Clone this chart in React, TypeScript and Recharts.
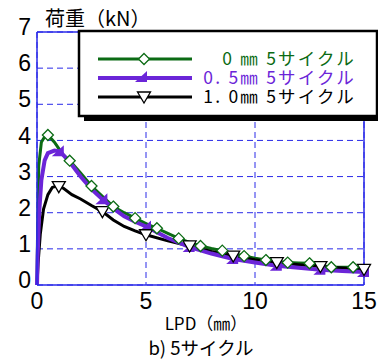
import { ComposedChart, Line, Scatter, XAxis, YAxis, CartesianGrid, ReferenceLine } from "recharts"

const GREEN = "#0b6b14"
const PURPLE = "#6b25d8"
const BLUE = "#2a2ae8"

const xTicks = [0, 5, 10, 15]
const yTicks = [0, 1, 2, 3, 4, 5, 6, 7]

// 0 mm 5サイクル
const greenX = [0, 0.02, 0.08, 0.2, 0.35, 0.5, 0.8, 1.2, 1.5, 2, 2.5, 3, 3.5, 4, 4.5, 5, 5.5, 6, 6.5, 7, 7.5, 8, 8.5, 9, 9.5, 10, 10.5, 11, 11.5, 12, 12.5, 13, 13.5, 14, 14.5, 15]
const greenY = [0, 1.2, 3.3, 3.95, 4.1, 4.15, 3.95, 3.6, 3.44, 3.1, 2.74, 2.45, 2.17, 2.0, 1.85, 1.7, 1.57, 1.43, 1.29, 1.18, 1.08, 1.01, 0.95, 0.87, 0.8, 0.74, 0.69, 0.65, 0.62, 0.61, 0.6, 0.55, 0.49, 0.49, 0.49, 0.44]
const greenMarkX = [0.5, 1.5, 2.5, 3.5, 4.5, 5.5, 6.5, 7.5, 8.5, 9.5, 10.5, 11.5, 12.5, 13.5, 14.5]
const greenMarkY = [4.15, 3.44, 2.74, 2.17, 1.85, 1.57, 1.29, 1.08, 0.95, 0.8, 0.69, 0.62, 0.6, 0.49, 0.49]

// 0.5mm 5サイクル
const purpleX = [0, 0.03, 0.1, 0.2, 0.35, 0.5, 0.8, 1.05, 1.5, 2, 2.5, 3, 3.5, 4, 4.5, 5, 6, 7, 8, 9, 10, 11, 12, 13, 14, 15]
const purpleY = [0, 0.8, 2.0, 2.9, 3.45, 3.65, 3.72, 3.7, 3.4, 3.0, 2.65, 2.37, 2.12, 1.9, 1.75, 1.62, 1.3, 1.05, 0.87, 0.72, 0.62, 0.53, 0.48, 0.42, 0.39, 0.36]
const purpleMarkX = [1, 3, 5, 7, 9, 11, 13, 15]
const purpleMarkY = [3.7, 2.37, 1.62, 1.05, 0.72, 0.53, 0.42, 0.36]

// 1.0mm 5サイクル
const blackX = [0, 0.05, 0.15, 0.3, 0.5, 0.7, 0.9, 1.2, 1.6, 2, 2.5, 3, 3.5, 4, 4.5, 5, 6, 7, 8, 9, 10, 11, 12, 13, 14, 15]
const blackY = [0, 0.6, 1.4, 2.1, 2.5, 2.7, 2.74, 2.68, 2.5, 2.38, 2.2, 2.03, 1.8, 1.62, 1.5, 1.39, 1.22, 1.08, 0.93, 0.8, 0.7, 0.62, 0.56, 0.51, 0.47, 0.43]
const blackMarkX = [1, 3, 5, 7, 9, 11, 13, 15]
const blackMarkY = [2.72, 2.03, 1.39, 1.08, 0.8, 0.62, 0.51, 0.43]

const pts = (xs: number[], ys: number[]) => xs.map((x, i) => ({ x, y: ys[i] }))

const Diamond = (p: any) => (
  <path
    d={`M${p.cx},${p.cy - 5.5} L${p.cx + 5.5},${p.cy} L${p.cx},${p.cy + 5.5} L${p.cx - 5.5},${p.cy} Z`}
    fill="#fff"
    stroke={GREEN}
    strokeWidth={1.3}
  />
)
const DownTri = (p: any) => (
  <path
    d={`M${p.cx - 6.5},${p.cy - 5} L${p.cx + 6.5},${p.cy - 5} L${p.cx},${p.cy + 6} Z`}
    fill="#fff"
    stroke="#000"
    strokeWidth={1.3}
  />
)
const CornerTri = (p: any) => (
  <path d={`M${p.cx + 5},${p.cy - 6} L${p.cx + 5},${p.cy + 5} L${p.cx - 7},${p.cy + 5} Z`} fill={PURPLE} />
)

const jp = "'Noto Sans CJK JP', sans-serif"
const num = "'Liberation Sans', Arial, sans-serif"

export default function App() {
  return (
    <div style={{ position: "fixed", left: 0, top: 0, width: 378, height: 360, background: "#fff" }}>
      <ComposedChart width={378} height={360} margin={{ top: 32, right: 14, bottom: 45, left: 0 }}>
        <CartesianGrid stroke={BLUE} strokeDasharray="6 4" />
        <XAxis
          type="number"
          dataKey="x"
          domain={[0, 15]}
          ticks={xTicks}
          height={30}
          tickLine={false}
          axisLine={{ stroke: BLUE, strokeWidth: 1.5 }}
          tick={{ fill: "#000", fontSize: 23, fontFamily: num }}
        />
        <YAxis
          type="number"
          dataKey="y"
          domain={[0, 7]}
          ticks={yTicks}
          width={37}
          tickLine={false}
          axisLine={{ stroke: BLUE, strokeWidth: 1.5 }}
          tick={{ fill: "#000", fontSize: 23, fontFamily: num, dy: -5, dx: 2 }}
        />
        <ReferenceLine y={7} stroke={BLUE} strokeWidth={1.5} />
        <ReferenceLine x={15} stroke={BLUE} strokeWidth={1.5} />
        <Line data={pts(greenX, greenY)} dataKey="y" stroke={GREEN} strokeWidth={3} dot={false} isAnimationActive={false} />
        <Line data={pts(blackX, blackY)} dataKey="y" stroke="#000" strokeWidth={3} dot={false} isAnimationActive={false} />
        <Line data={pts(purpleX, purpleY)} dataKey="y" stroke={PURPLE} strokeWidth={4} dot={false} isAnimationActive={false} />
        <Scatter data={pts(purpleMarkX, purpleMarkY)} dataKey="y" shape={CornerTri} isAnimationActive={false} />
        <Scatter data={pts(blackMarkX, blackMarkY)} dataKey="y" shape={DownTri} isAnimationActive={false} />
        <Scatter data={pts(greenMarkX, greenMarkY)} dataKey="y" shape={Diamond} isAnimationActive={false} />
      </ComposedChart>
      <svg width={378} height={360} style={{ position: "absolute", left: 0, top: 0, pointerEvents: "none" }}>
        <text x={45} y={26} fontSize={20} fontFamily={jp} fill="#000">荷重（kN）</text>
        <rect x={84} y={36} width={298} height={85} fill="#000" />
        <rect x={79} y={31} width={298} height={85} fill="#fff" stroke="#000" strokeWidth={2.5} />
        <line x1={98} x2={192} y1={59} y2={59} stroke={GREEN} strokeWidth={3} />
        <Diamond cx={144} cy={59} />
        <line x1={98} x2={192} y1={78} y2={78} stroke={PURPLE} strokeWidth={4} />
        <CornerTri cx={142} cy={77} />
        <line x1={98} x2={192} y1={97} y2={97} stroke="#000" strokeWidth={3} />
        <DownTri cx={144} cy={97} />
        <text x={356} y={65} textAnchor="end" fontSize={17.5} letterSpacing={2.2} fontFamily={jp} fill={GREEN}>0  ㎜ 5サイクル</text>
        <text x={356} y={84} textAnchor="end" fontSize={17.5} letterSpacing={2.2} fontFamily={jp} fill={PURPLE}>0. 5㎜ 5サイクル</text>
        <text x={356} y={103} textAnchor="end" fontSize={17.5} letterSpacing={2.2} fontFamily={jp} fill="#000">1. 0㎜ 5サイクル</text>
        <text x={206} y={330} textAnchor="middle" fontSize={17} fontFamily={jp} fill="#000">LPD（㎜）</text>
        <text x={201} y={355} textAnchor="middle" fontSize={18.5} fontFamily={jp} fill="#000">b) 5サイクル</text>
      </svg>
    </div>
  )
}
